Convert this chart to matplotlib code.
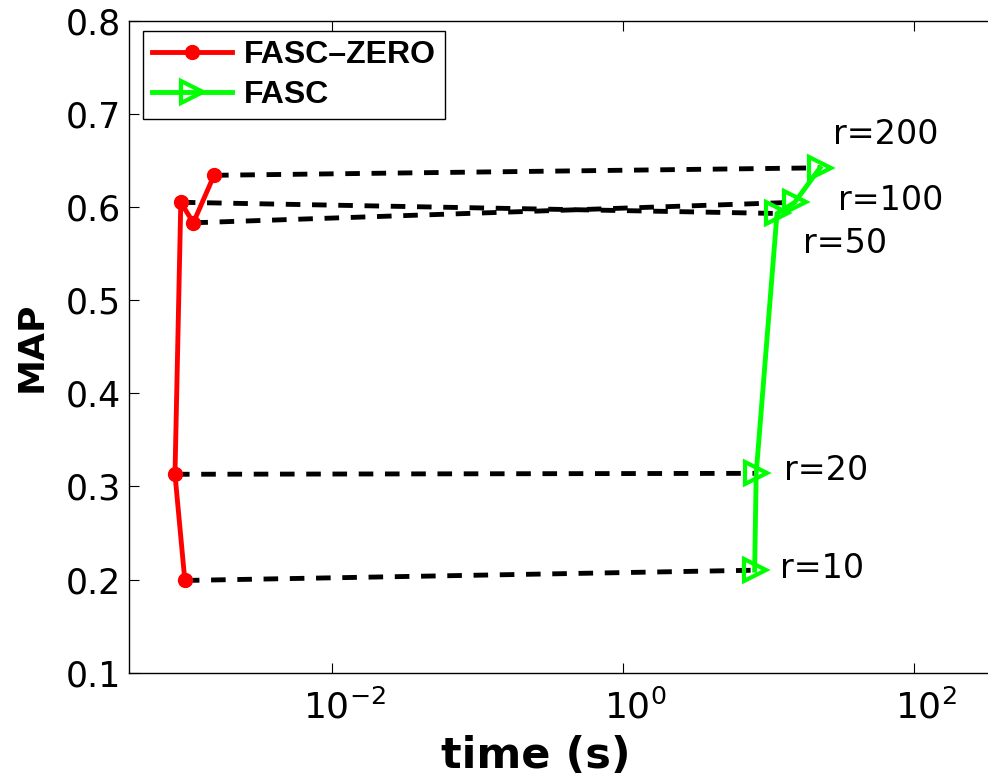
import matplotlib
matplotlib.use('Agg')
import matplotlib.pyplot as plt
import matplotlib.transforms as mtransforms

plt.rcParams['font.family'] = ['DejaVu Sans']

r_values = [10, 20, 50, 100, 200]
zero_time = [9.7e-4, 8.3e-4, 9.1e-4, 1.11e-3, 1.54e-3]
zero_map = [0.199, 0.313, 0.605, 0.583, 0.634]
fasc_time = [8.0, 8.2, 11.4, 15.1, 22.5]
fasc_map = [0.210, 0.314, 0.593, 0.605, 0.642]

# label offsets (pixels) from the FASC points
label_offsets = {10: (25, 2), 20: (28, 3), 50: (26, -30), 100: (43, 2), 200: (13, 33)}

fig = plt.figure(figsize=(9.88, 7.8), dpi=100)
ax = fig.add_axes([0.1309, 0.1376, 0.8823, 0.8359])

# dashed lines joining the same r
for i in range(len(r_values)):
    ax.plot([zero_time[i], fasc_time[i]], [zero_map[i], fasc_map[i]],
            color='black', linewidth=3.5, dashes=(3, 2.4), zorder=1)

ax.plot(zero_time, zero_map, color='#ff0000', linewidth=3.5, marker='o',
        markersize=10, label='FASC–ZERO', zorder=2)
ax.plot(fasc_time, fasc_map, color='#00ff00', linewidth=3.5, marker='>',
        markersize=16, markerfacecolor='none', markeredgewidth=3,
        label='FASC', zorder=2)

for r, t, m in zip(r_values, fasc_time, fasc_map):
    ax.annotate('r=%d' % r, xy=(t, m), xytext=label_offsets[r],
                textcoords='offset pixels', fontsize=24, va='center', ha='left')

ax.set_xscale('log')
ax.set_xlim(4.03e-4, 395)
ax.set_ylim(0.1, 0.8)
ax.set_xticks([1e-2, 1, 1e2])
ax.minorticks_off()
ax.set_yticks([0.1, 0.2, 0.3, 0.4, 0.5, 0.6, 0.7, 0.8])
ax.set_yticklabels(['0.1', '0.2', '0.3', '0.4', '0.5', '0.6', '0.7', '0.8'])
ax.tick_params(direction='in', length=7, width=0.8, labelsize=25, top=True,
               right=False, pad=6)
ax.tick_params(axis='x', labelsize=26, pad=12)

# MATLAB centres the "10" part on the tick, so nudge labels right a bit
shift = mtransforms.ScaledTranslation(12 / 100, 0, fig.dpi_scale_trans)
for lbl in ax.get_xticklabels():
    lbl.set_transform(lbl.get_transform() + shift)

ax.spines['right'].set_visible(False)
for s in ax.spines.values():
    s.set_linewidth(1.0)

ax.set_xlabel('time (s)', fontsize=31, fontweight='bold')
ax.xaxis.set_label_coords(0.4666, -0.095)
ax.xaxis.label.set_va('top')
ax.set_ylabel('MAP', fontsize=26, fontweight='bold', labelpad=12)

leg = ax.legend(loc='upper left', bbox_to_anchor=(0.0154, 0.9847), borderaxespad=0,
                fancybox=False, edgecolor='black', framealpha=1,
                prop={'family': 'Liberation Sans', 'weight': 'bold', 'size': 23},
                handlelength=2.5, handletextpad=0.35, labelspacing=0.3,
                borderpad=0.3)
leg.get_frame().set_linewidth(1.0)

fig.savefig('out.png', dpi=100, facecolor='white')
